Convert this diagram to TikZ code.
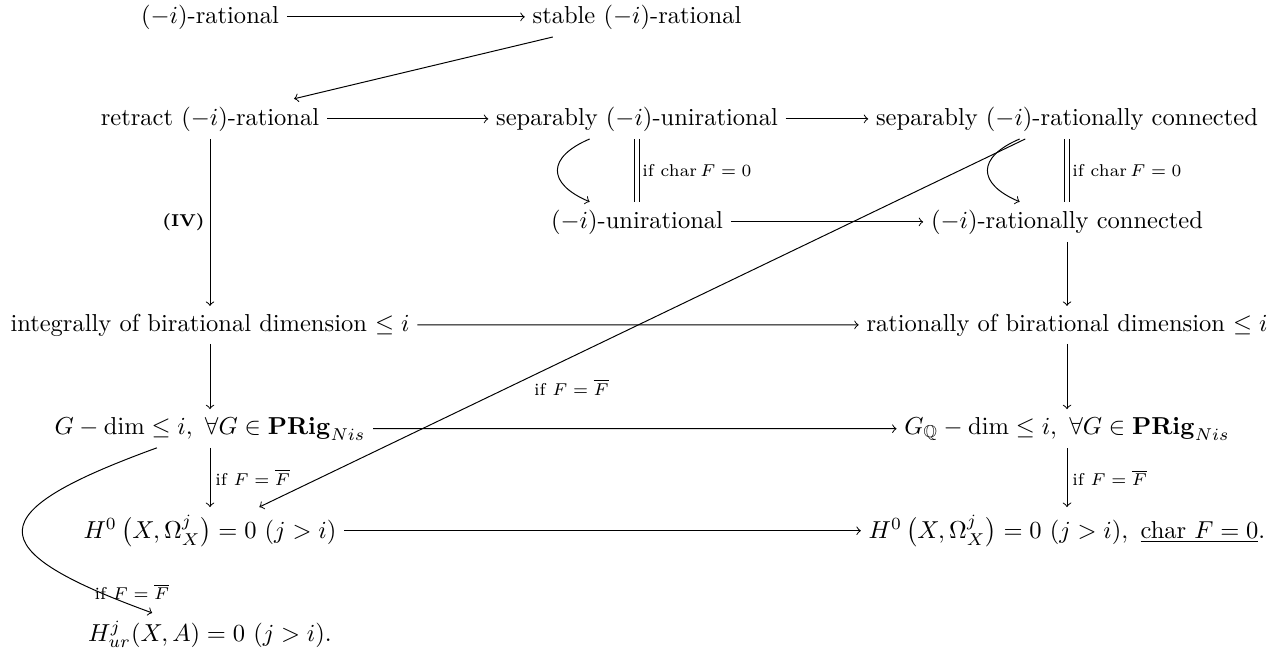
\documentclass[tikz,border=0pt]{standalone}
\usepackage{amsmath,amssymb}
\tikzset{
  obj/.style={anchor=base, inner sep=3pt},
  imp/.style={->, line width=0.4pt},
  eqv/.style={double, double distance=1.6pt, line width=0.4pt},
  cond/.style={font=\scriptsize, inner sep=2pt},
  loopleft/.style={out=-157, in=157, looseness=1.9}
}

\begin{document}
\begin{tikzpicture}[x=0.408pt,y=-0.408pt]
  \useasboundingbox (0,0) rectangle (1276,660);
  % rows of the diagram
  \node[obj] (rat) at (210,23) {$(-i)$-rational};
  \node[obj] (strat) at (637,23) {stable $(-i)$-rational};
  \node[obj] (retr) at (210,125) {retract $(-i)$-rational};
  \node[obj] (sepuni) at (637,125) {separably $(-i)$-unirational};
  \node[obj] (seprc) at (1067,125) {separably $(-i)$-rationally connected};
  \node[obj] (uni) at (637,228) {$(-i)$-unirational};
  \node[obj] (rc) at (1067,228) {$(-i)$-rationally connected};
  \node[obj] (intdim) at (210,331) {integrally of birational dimension $\leq i$};
  \node[obj] (ratdim) at (1067,331) {rationally of birational dimension $\leq i$};
  \node[obj] (gdim) at (210,434) {$G-\dim\leq i,\ \forall G\in\mathbf{PRig}_{Nis}$};
  \node[obj] (gqdim) at (1067,434) {$G_{\mathbb{Q}}-\dim\leq i,\ \forall G\in\mathbf{PRig}_{Nis}$};
  \node[obj] (hodge) at (210,538) {$H^0\,\bigl(X,\Omega^j_X\bigr)=0\ (j>i)$};
  \node[obj] (hodgeq) at (1067,538) {$H^0\,\bigl(X,\Omega^j_X\bigr)=0\ (j>i),\ \underline{\text{char }F=0}.$};
  \node[obj] (unr) at (210,641) {$H^j_{ur}(X,A)=0\ (j>i).$};
  % implications
  \draw[imp] (rat) -- (strat);
  \draw[imp] (strat) -- (retr);
  \draw[imp] (retr) -- (sepuni);
  \draw[imp] (sepuni) -- (seprc);
  \draw[imp] (sepuni) to[loopleft] (uni);
  \draw[eqv] (sepuni) -- node[cond,right] {if $\operatorname{char}F=0$} (uni);
  \draw[imp] (seprc) to[loopleft] (rc);
  \draw[eqv] (seprc) -- node[cond,right] {if $\operatorname{char}F=0$} (rc);
  \draw[imp] (uni) -- (rc);
  \draw[imp] (retr) -- node[cond,left,font=\scriptsize\bfseries] {(IV)} (intdim);
  \draw[imp] (rc) -- (ratdim);
  \draw[imp] (intdim) -- (ratdim);
  \draw[imp] (intdim) -- (gdim);
  \draw[imp] (ratdim) -- (gqdim);
  \draw[imp] (gdim) -- (gqdim);
  \draw[imp] (gdim) -- node[cond,right] {if $F=\overline{F}$} (hodge);
  \draw[imp] (gqdim) -- node[cond,right] {if $F=\overline{F}$} (hodgeq);
  \draw[imp] (hodge) -- (hodgeq);
  \draw[imp] (seprc) -- node[cond,pos=0.645,anchor=north west,inner sep=1pt] {if $F=\overline{F}$} (hodge);
  \draw[imp] (gdim) to[out=-160,in=160,looseness=2.9]
    node[cond,pos=0.96,above] {if $F=\overline{F}$} (unr);
\end{tikzpicture}
\end{document}
